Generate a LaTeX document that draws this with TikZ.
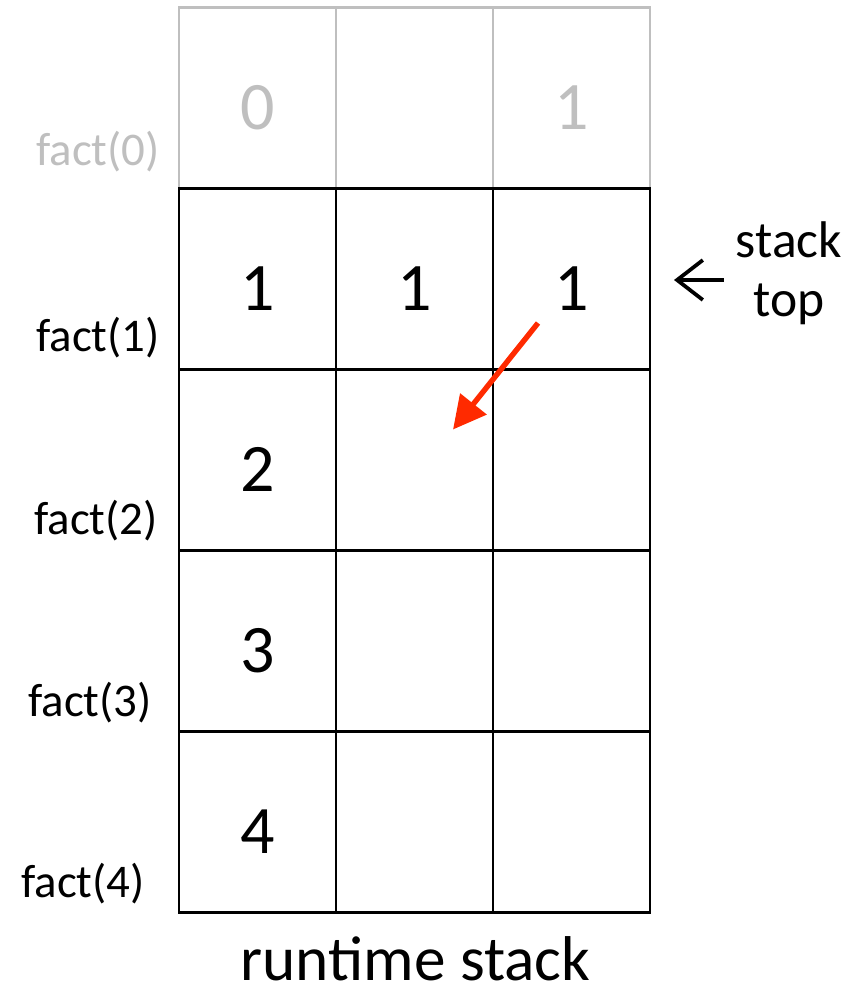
\documentclass[tikz,border=0pt]{standalone}
\usepackage{fontspec}
\setmainfont{Carlito}
\usepackage{xcolor}
\definecolor{faded}{HTML}{BFBFBF}
\definecolor{hot}{HTML}{FF2A00}
\usetikzlibrary{
  arrows.meta,
  positioning
}

\begin{document}
\begin{tikzpicture}[
  x=0.03cm, y=-0.03cm,
  cell/.style={rectangle, draw=black, line width=2.2pt, minimum width=4.71cm, minimum height=5.43cm, inner sep=0pt, outer sep=0pt, text height=54pt, text depth=0pt, font=\fontsize{58}{60}\selectfont},
  oldcell/.style={cell, draw=faded, text=faded},
  call/.style={anchor=east, inner sep=0pt, font=\fontsize{40}{42}\selectfont},
  pointer/.style={-{Straight Barb[length=22pt, width=34pt]}, line width=3.2pt},
  hotarr/.style={-{Triangle[length=28pt, width=28pt]}, line width=4.6pt, hot},
]
\useasboundingbox (0,0) rectangle (858,995);

% Popped frame
\node[oldcell] (f0a) at (257.5,98) {0};
\node[oldcell, right=0pt of f0a] (f0b) {};
\node[oldcell, right=0pt of f0b] (f0c) {1};

% Live frames
\node[cell, below=0pt of f0a] (f1a) {1};
\node[cell, right=0pt of f1a] (f1b) {1};
\node[cell, right=0pt of f1b] (f1c) {1};
\node[cell, below=0pt of f1a] (f2a) {2};
\node[cell, right=0pt of f2a] (f2b) {};
\node[cell, right=0pt of f2b] (f2c) {};
\node[cell, below=0pt of f2a] (f3a) {3};
\node[cell, right=0pt of f3a] (f3b) {};
\node[cell, right=0pt of f3b] (f3c) {};
\node[cell, below=0pt of f3a] (f4a) {4};
\node[cell, right=0pt of f4a] (f4b) {};
\node[cell, right=0pt of f4b] (f4c) {};

% Calls
\node[call, text=faded] (call0) at (160,152) {fact(0)};
\node[call] (call1) at (160,338) {fact(1)};
\node[call] (call2) at (158,521) {fact(2)};
\node[call] (call3) at (152,703) {fact(3)};
\node[call] (call4) at (145,884) {fact(4)};

\node[font=\fontsize{54}{56}\selectfont, inner sep=0pt] (caption) at (415.5,959) {runtime stack};

% Top marker
\node[font=\fontsize{44}{50}\selectfont, align=center, inner sep=0pt] (toplab) at (789,273) {stack\\top};
\coordinate (topmark) at (674,280);
\draw[pointer] (toplab.west) ++(-12,7) -- (topmark);

% Return value
\draw[hotarr] ([shift={(-33.5,44)}]f1c.center) -- ([shift={(38.5,-30.5)}]f2b.center);

\end{tikzpicture}
\end{document}
